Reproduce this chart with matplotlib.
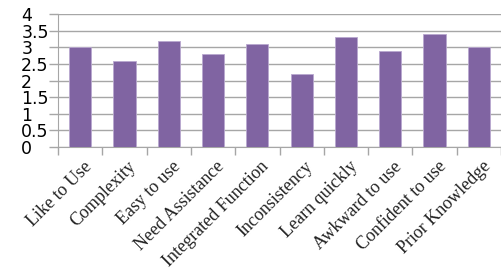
import matplotlib.pyplot as plt
import matplotlib.transforms as mtransforms

# datos
categorias = ["Like to Use", "Complexity", "Easy to use", "Need Assistance",
              "Integrated Function", "Inconsistency", "Learn quickly",
              "Awkward to use", "Confident to use", "Prior Knowledge"]
valores = [3.0, 2.6, 3.2, 2.8, 3.1, 2.2, 3.3, 2.9, 3.4, 3.0]
ticks_y = [0, 0.5, 1, 1.5, 2, 2.5, 3, 3.5, 4]
etiquetas_y = ["0", "0.5", "1", "1.5", "2", "2.5", "3", "3.5", "4"]

gris = "#a6a6a6"

fig = plt.figure(figsize=(5.01, 2.73), dpi=100)
ax = fig.add_axes([58 / 501, 1 - 147 / 273, 1 - 58 / 501, (147 - 14) / 273])

x = list(range(len(categorias)))
ax.bar(x, valores, width=0.5, color="#8064a2", edgecolor="#b9a8cf",
       linewidth=0.6, zorder=3)

ax.set_xlim(-0.5, len(categorias) - 0.5)
ax.set_ylim(0, 4)
ax.set_yticks(ticks_y)
ax.set_yticklabels(etiquetas_y, fontsize=12.5, family="DejaVu Sans", ha="left")
ax.tick_params(axis="y", length=6.5, color=gris, width=1, pad=20)
ax.yaxis.grid(True, color=gris, linewidth=1, zorder=0)

# ticks de x en los bordes de categoria
ax.set_xticks([i - 0.5 for i in range(len(categorias) + 1)], minor=False)
ax.set_xticklabels([])
ax.tick_params(axis="x", length=5.8, color=gris, width=1)
ax.set_xticks(x, minor=True)
ax.set_xticklabels(categorias, minor=True, rotation=45, ha="right",
                   rotation_mode="anchor", fontsize=13,
                   family="Liberation Serif", color="#222222")
ax.tick_params(axis="x", which="minor", length=0, pad=8)
desplaza = mtransforms.ScaledTranslation(3 / 100, 0, fig.dpi_scale_trans)
for t in ax.get_xticklabels(minor=True):
    t.set_transform(t.get_transform() + desplaza)

for lado in ["top", "right"]:
    ax.spines[lado].set_visible(False)
ax.spines["left"].set_color(gris)
ax.spines["bottom"].set_color(gris)
ax.set_axisbelow(True)

fig.savefig("out.png", dpi=100)
